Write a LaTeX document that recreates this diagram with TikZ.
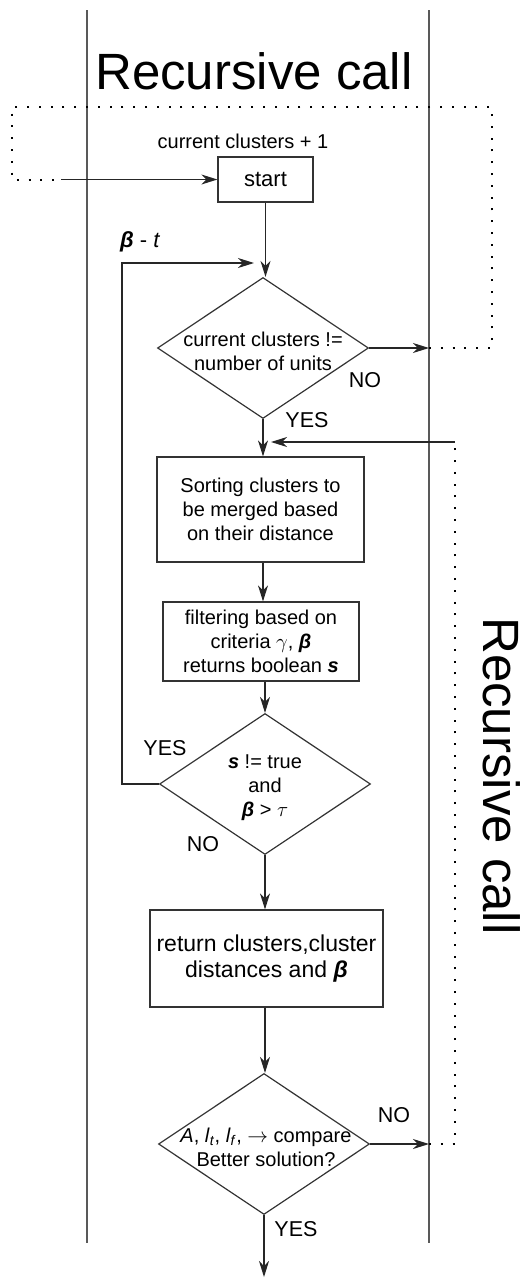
\documentclass[tikz,border=0pt]{standalone}
\usepackage{fontspec}
\setmainfont{Liberation Sans}
\usetikzlibrary{shapes.geometric,arrows.meta}
\begin{document}
\begin{tikzpicture}[x=1pt,y=-1pt,
  every node/.style={font=\fontsize{20}{24}\selectfont, inner sep=0pt},
  box/.style={draw=black!80, line width=1.2pt, align=center},
  dia/.style={draw=black!80, line width=1.2pt, diamond, minimum width=211pt, minimum height=141pt},
  txt/.style={align=center},
  lbl/.style={font=\fontsize{21.5}{24}\selectfont},
  arr/.style={-{Stealth[length=16pt,width=10pt,inset=5pt]}, line width=1.2pt, draw=black!85},
  dots/.style={line width=2pt, dash pattern=on 2pt off 9.8pt},
  lane/.style={line width=1.6pt, draw=black!65},
  big/.style={font=\fontsize{51}{60}\selectfont}]
\useasboundingbox (0,0) rectangle (522,1278);

% swim lanes
\draw[lane] (87,10) -- (87,1243);
\draw[lane] (429,10) -- (429,1243);

% titles
\node[big, anchor=base] (title) at (254,89) {Recursive call};
\node[big, anchor=base, rotate=-90] (title2) at (483,776) {Recursive call};

% nodes
\node[anchor=base] (cc) at (243,148) {current clusters + 1};
\node[box, minimum width=95pt, minimum height=45pt, font=\fontsize{22}{24}\selectfont] (start) at (265.5,179.5) {start};
\node[dia] (d1) at (263,348) {};
\node[txt] (d1t) at (263,351) {current clusters !=\\number of units};
\node[box, minimum width=207pt, minimum height=105pt] (sort) at (260.5,509.5) {Sorting clusters to\\be merged based\\on their distance};
\node[box, minimum width=196pt, minimum height=79pt] (filt) at (261,641.5) {filtering based on\\criteria $\gamma$, \textbf{\textit{β}}\\returns boolean \textbf{\textit{s}}};
\node[dia] (d2) at (265,784) {};
\node[txt] (d2t) at (265,788) {\textbf{\textit{s}} != true\\and\\\textbf{\textit{β}} > $\tau$};
\node[box, minimum width=233pt, minimum height=97pt, font=\fontsize{23}{26}\selectfont] (ret) at (266.5,958.5) {return clusters,cluster\\distances and \textbf{\textit{β}}};
\node[dia] (d3) at (264,1144) {};
\node[txt] (d3t) at (266,1147) {\textit{A}, \textit{l}\textsubscript{\textit{t}}, \textit{l}\textsubscript{\textit{f}}, $\rightarrow$ compare\\Better solution?};

% labels
\node[font=\fontsize{22}{24}\selectfont, anchor=base west] (bt) at (120,247) {\textbf{\textit{β}} - \textit{t}};
\node[lbl] (no1) at (365,380) {NO};
\node[lbl] (yes1) at (307,420) {YES};
\node[lbl] (yes2) at (165,748) {YES};
\node[lbl] (no2) at (203,844) {NO};
\node[lbl] (no3) at (394,1115) {NO};
\node[lbl] (yes3) at (296,1229) {YES};

% coordinates
\coordinate (n1) at (429,348);
\coordinate (sin) at (61,179.5);
\coordinate (loopend) at (254,263);
\coordinate (rc) at (455,442);
\coordinate (rjoin) at (271,442);
\coordinate (n3) at (429,1144);
\coordinate (endp) at (264,1277);

% main flow
\draw[arr] (start.south) -- (start.south |- d1.north);
\draw[arr] (d1.south) -- (d1.south |- sort.north);
\draw[arr] (d1.south |- sort.south) -- (d1.south |- filt.north);
\draw[arr] (d2.north |- filt.south) -- (d2.north);
\draw[arr] (d2.south) -- (d2.south |- ret.north);
\draw[arr] (d2.south |- ret.south) -- (d2.south |- d3.north);
\draw[arr] (d3.south) -- (endp);

% loop back
\draw[arr] (d2.west) -- ++(-37,0) |- (loopend);

% recursive calls
\draw[arr] (d1.east) -- (n1);
\draw[dots] (n1) -- (492,348) -- (492,107) -- (12,107) -- (12,179.5) -- (sin);
\draw[arr] (sin) -- (start.west);
\draw[arr] (d3.east) -- (n3);
\draw[dots] (n3) -| (rc);
\draw[arr] (rc) -- (rjoin);
\end{tikzpicture}
\end{document}
